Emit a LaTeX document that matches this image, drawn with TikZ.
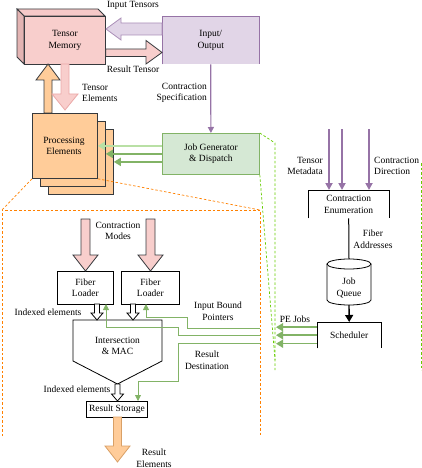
\documentclass[tikz,border=0pt]{standalone}
\usepackage{fontspec}
\setmainfont{Liberation Serif}
\usetikzlibrary{arrows.meta,calc}
\definecolor{pinkf}{HTML}{F8CECC}
\definecolor{pinkd}{HTML}{E3B4B3}
\definecolor{pinkt}{HTML}{F6C9C8}
\definecolor{pinkedge}{HTML}{EBA9A8}
\definecolor{orangef}{HTML}{FFCC99}
\definecolor{orangeedge}{HTML}{D9A066}
\definecolor{darkedge}{HTML}{36393D}
\definecolor{purplef}{HTML}{E1D5E7}
\definecolor{purplel}{HTML}{9673A6}
\definecolor{greenf}{HTML}{D5E8D4}
\definecolor{greenl}{HTML}{82B366}
\definecolor{greenlight}{HTML}{B9E0A5}
\definecolor{greendash}{HTML}{66CC00}
\definecolor{orangedash}{HTML}{FF8000}
\begin{document}
\begin{tikzpicture}[x=1pt,y=-1pt,
  every node/.style={font=\fontsize{9.5}{11.5}\selectfont, inner sep=0pt, align=center},
  box/.style={draw=black, line width=0.8pt, anchor=north west},
  openbox/.style={anchor=north west},
  garrow/.style={draw=greenl, line width=0.8pt, -{Triangle[length=6pt,width=6pt]}},
  gthick/.style={draw=greenl, line width=1.8pt, -{Triangle[length=7pt,width=8pt]}},
  pthick/.style={draw=purplel, line width=2.2pt, -{Triangle[length=7pt,width=7pt]}},
  odash/.style={draw=orangedash, line width=0.7pt, dash pattern=on 2.5pt off 2pt},
  gdash/.style={draw=greendash, line width=0.7pt, dash pattern=on 2.5pt off 2pt},
  hollow/.style={draw=black, fill=white, line width=0.8pt, line join=miter},
]
\useasboundingbox (0,0) rectangle (422,468);

% ---------------- Tensor Memory (cube) ----------------
\filldraw[fill=pinkt, draw=darkedge, line width=0.8pt] (17,9) -- (98,9) -- (105,16) -- (24,16) -- cycle;
\filldraw[fill=pinkd, draw=darkedge, line width=0.8pt] (17,9) -- (24,16) -- (24,64) -- (17,57) -- cycle;
\node[box, fill=pinkf, draw=darkedge, minimum width=81, minimum height=48] (tm) at (24,16) {Tensor\\Memory};

% ---------------- Input / Output ----------------
\node[openbox, fill=purplef, minimum width=97, minimum height=48] (io) at (162,16) {Input/\\Output};
\draw[purplel, line width=0.8pt] (io.south west) -- (io.north west) -- (io.north east) -- (io.south east);

% Input Tensors block arrow (left)
\filldraw[fill=purplef, draw=purplel!80, line width=0.8pt]
  (io.west |- 0,23) -- (121,23) -- (121,18) -- (106,29) -- (121,40) -- (121,35) -- (io.west |- 0,35) -- cycle;
\node (lit) at (133,5) {Input Tensors};
% Result Tensor block arrow (right)
\filldraw[fill=pinkf, draw=darkedge, line width=0.8pt]
  (tm.east |- 0,49) -- (146,49) -- (146,40.5) -- (io.west |- 0,52.5) -- (146,64) -- (146,56.5) -- (tm.east |- 0,56.5) -- cycle;
\node (lrt) at (133,69) {Result Tensor};

% ---------------- Processing Elements ----------------
\node[box, fill=orangef, draw=darkedge, minimum width=65, minimum height=65] (pe3) at (48,129) {};
\node[box, fill=orangef, draw=darkedge, minimum width=65, minimum height=65] (pe2) at (40,121) {};
\node[box, fill=orangef, draw=darkedge, minimum width=65, minimum height=65] (pe) at (32,113) {};
\node (petext) at (64,146) {Processing\\Elements};

% orange up arrow PE -> TM
\filldraw[fill=orangef, draw=darkedge, line width=0.8pt]
  (44,113) -- (44,80) -- (36,80) -- (48,64) -- (60,80) -- (52,80) -- (52,113) -- cycle;
% Tensor Elements down arrow TM -> PE
\filldraw[fill=pinkf, draw=pinkedge, line width=0.8pt]
  (61,64) -- (61,94) -- (52,94) -- (65,110) -- (78,94) -- (69,94) -- (69,64) -- cycle;
\node[anchor=west, align=left] (lte) at (82,93) {Tensor\\Elements};

% ---------------- Job Generator ----------------
\node[box, fill=greenf, draw=greenl, minimum width=97, minimum height=41] (jg) at (162,133) {Job Generator\\\& Dispatch};
\draw[purplel, line width=1.2pt, -{Triangle[length=6pt,width=6pt]}] (io.south) -- (jg.north);
\node[anchor=east, align=right] (lcs) at (207,93) {Contraction\\Specification};

\draw[gthick, draw=greenlight] (jg.west |- pe.east) -- (pe.east);
\draw[gthick] (jg.west |- pe2.east) -- (pe2.east);
\draw[gthick] (jg.west |- pe3.east) -- (pe3.east);

% ---------------- orange dashed zoom region ----------------
\coordinate (dtl) at (2,210);
\coordinate (dtr) at (260,210);
\coordinate (dbl) at (2,436);
\coordinate (dbr) at (260,436);
\draw[odash] (dbl) -- (dtl) -- (dtr) -- (dbr);
\draw[odash] (pe.south west) -- (dtl);
\draw[odash] (pe.south east) -- (dtr);

% ---------------- green dashed region ----------------
\coordinate (g1) at (275,143);
\coordinate (g2) at (275,370);
\coordinate (g3) at (275,360);
\coordinate (g4) at (421,163);
\coordinate (g5) at (421,370);
\draw[gdash] (jg.north east) -- (g1) -- (g2);
\draw[gdash] (jg.south east) -- (g3);
\draw[gdash] (g4) -- (g5);

% ---------------- right side ----------------
\node[openbox, minimum width=81, minimum height=28] (ce) at (308,190) {Contraction\\Enumeration};
\draw[black, line width=0.8pt] (ce.south west) -- (ce.north west) -- (ce.north east) -- (ce.south east);
\coordinate (td1) at (329,129);
\coordinate (td2) at (342,129);
\coordinate (td3) at (369,129);
\draw[pthick] (td1) -- (td1 |- ce.north);
\draw[pthick] (td2) -- (td2 |- ce.north);
\draw[pthick] (td3) -- (td3 |- ce.north);
\node[anchor=east, align=right] (ltm) at (323,166) {Tensor\\Metadata};
\node[anchor=west, align=left] (lcd) at (374,166) {Contraction\\Direction};

% Job Queue cylinder
\filldraw[fill=white, draw=black, line width=0.8pt] (327,264) -- (327,300) arc[start angle=180, end angle=0, x radius=22, y radius=5] -- (371,264);
\draw[black, line width=0.8pt] (349,264) ellipse [x radius=22, y radius=5];
\coordinate (jqtop) at (349,259);
\coordinate (jqbot) at (349,305);
\node (jq) at (349,288) {Job\\Queue};
\draw[black, line width=1pt] (ce.south) -- (jqtop);
\node (lfa) at (373,239) {Fiber\\Addresses};

% Scheduler
\node[openbox, minimum width=64, minimum height=26] (sch) at (317,322) {Scheduler};
\draw[black, line width=0.8pt] (sch.south west) -- (sch.north west) -- (sch.north east) -- (sch.south east);
\draw[black, line width=1.4pt, -{Triangle[length=7pt,width=8pt]}] (jqbot) -- (sch.north);

\coordinate (pj) at (276,0);
\coordinate (s1) at ([yshift=8pt]sch.west);
\coordinate (s2) at (sch.west);
\coordinate (s3) at ([yshift=-8.5pt]sch.west);
\draw[gthick, line width=1.5pt] (s1) -- (pj |- s1);
\draw[gthick, line width=1.5pt] (s2) -- (pj |- s2);
\draw[gthick, line width=1.5pt] (s3) -- (pj |- s3);
\node (lpj) at (295,319) {PE Jobs};

% ---------------- inside zoom ----------------
\node[box, minimum width=56, minimum height=33] (fl1) at (57,271) {Fiber\\Loader};
\node[box, minimum width=58, minimum height=33] (fl2) at (121,271) {Fiber\\Loader};

% Contraction Modes arrows
\filldraw[fill=pinkf, draw=darkedge, line width=0.8pt]
  (81,219) -- (81,255) -- (73,255) -- (85.5,271) -- (98,255) -- (90,255) -- (90,219) -- cycle;
\filldraw[fill=pinkf, draw=darkedge, line width=0.8pt]
  (146,219) -- (146,255) -- (138,255) -- (150.5,271) -- (163,255) -- (155,255) -- (155,219) -- cycle;
\node (lcm) at (118,231) {Contraction\\Modes};

% Intersection & MAC
\coordinate (imtl) at (73,320);
\coordinate (imtr) at (162,320);
\coordinate (imbot) at (117.5,384);
\draw[black, line width=0.8pt] (imtl) -- (imtr) -- (162,361) -- (imbot) -- (73,361) -- cycle;
\node (im) at (117.5,346) {Intersection\\\& MAC};

% hollow arrows
\draw[hollow] (94.5,304) -- (94.5,313) -- (91,313) -- (97,320) -- (103,313) -- (99.5,313) -- (99.5,304) -- cycle;
\draw[hollow] (130.5,304) -- (130.5,313) -- (127,313) -- (133,320) -- (139,313) -- (135.5,313) -- (135.5,304) -- cycle;
\node (lie1) at (48,312) {Indexed elements};

% Result Storage
\node[box, minimum width=61, minimum height=16] (rs) at (86,401) {Result Storage};
\draw[hollow] (115,384) -- (115,394) -- (111.5,394) -- (117.5,401) -- (123.5,394) -- (120,394) -- (120,384) -- cycle;
\node (lie2) at (77,389) {Indexed elements};

% Result Elements
\filldraw[fill=orangef, draw=orangeedge, line width=0.8pt]
  (113.5,417) -- (113.5,446) -- (105,446) -- (117.5,462) -- (130,446) -- (121.5,446) -- (121.5,417) -- cycle;
\node (lre) at (154,458) {Result\\Elements};

% green connectors inside
\coordinate (e1) at (260,328);
\coordinate (e2) at (260,335.5);
\coordinate (e3) at (260,343);
\draw[garrow] (e1) -- (187,328) -- (187,317) -- (146,317) -- (146,304);
\draw[garrow] (e2) -- (178,335.5) -- (178,327) -- (106,327) -- (106,304);
\draw[garrow] (e3) -- (178,343) -- (178,381) -- (138,381) -- (138,401);
\node (libp) at (218,311) {Input Bound\\Pointers};
\node (lrd) at (207,360) {Result\\Destination};
\end{tikzpicture}
\end{document}
